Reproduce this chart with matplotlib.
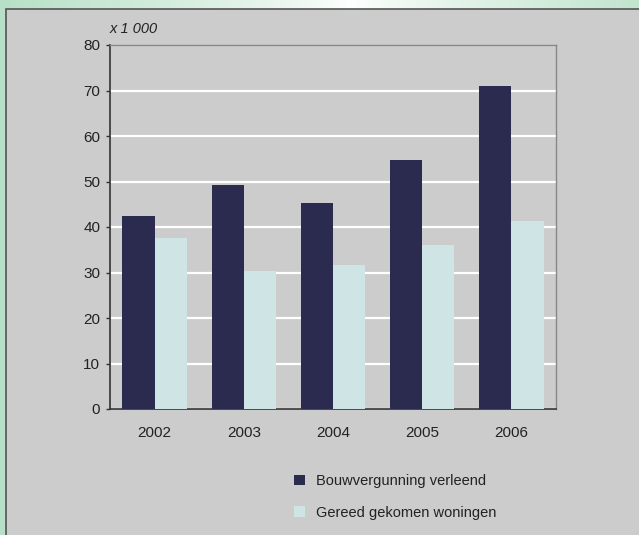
import numpy as np
import matplotlib
matplotlib.use("Agg")
import matplotlib.pyplot as plt
from matplotlib.patches import Rectangle

plt.rcParams['font.family'] = ['Liberation Sans', 'DejaVu Sans']

jaren = ["2002", "2003", "2004", "2005", "2006"]
bouwvergunning = [42.4, 49.3, 45.3, 54.7, 71.0]
gereed = [37.5, 30.3, 31.7, 36.0, 41.4]

donker = "#2b2b50"
licht = "#cfe5e5"
grijs = "#cccccc"

fig = plt.figure(figsize=(6.39, 5.35), dpi=100)

# groene achtergrond met verloop bovenaan
bg = fig.add_axes([0, 0, 1, 1])
bg.set_axis_off()
x = np.linspace(0, 1, 300)
verloop = np.abs(x - 0.55) / 0.55
groen = np.array([0.72, 0.88, 0.78])
kleur = 1 - (1 - groen) * np.clip(verloop, 0, 1)[:, None] ** 0.8
bg.imshow(kleur[None, :, :], extent=[0, 1, 0, 1], aspect="auto")
bg.add_patch(Rectangle((0.0, 0.0), 0.011, 1, color="#b8e0c8", transform=bg.transAxes))
bg.add_patch(Rectangle((6 / 639, -0.01), 1, 1 - 9 / 535 + 0.01, facecolor=grijs,
                       edgecolor="#555555", linewidth=1.2, transform=bg.transAxes))
bg.set_xlim(0, 1)
bg.set_ylim(0, 1)

# grafiek
ax = fig.add_axes([110 / 639, 1 - 409 / 535, 446 / 639, 364 / 535])
ax.set_facecolor(grijs)
pos = np.arange(len(jaren))
w = 0.36
ax.bar(pos - w / 2, bouwvergunning, w, color=donker, label="Bouwvergunning verleend", zorder=3)
ax.bar(pos + w / 2, gereed, w, color=licht, label="Gereed gekomen woningen", zorder=3)

ax.set_xlim(-0.5, 4.5)
ax.set_ylim(0, 80)
ax.set_yticks(range(0, 81, 10))
ax.set_xticks(pos)
ax.set_xticklabels(jaren)
ax.yaxis.grid(True, color="white", linewidth=1.6, zorder=1)
ax.tick_params(axis="y", length=3, width=1, color="#333333", labelsize=11, pad=4, labelcolor="#222222")
ax.tick_params(axis="x", length=0, labelsize=11, pad=12, labelcolor="#222222")
for s in ["left", "bottom"]:
    ax.spines[s].set_color("#333333")
    ax.spines[s].set_linewidth(1.2)
for s in ["top", "right"]:
    ax.spines[s].set_color("#888888")
    ax.spines[s].set_linewidth(1.0)

ax.text(0.0, 1.025, "x 1 000", transform=ax.transAxes, fontsize=10.5, style="italic",
        color="#222222", ha="left", va="bottom")

fig.legend(loc="upper left", bbox_to_anchor=(281 / 639, 1 - 461 / 535), frameon=False,
           fontsize=10.5, handlelength=0.75, handleheight=0.75, labelspacing=1.2,
           handletextpad=0.75, labelcolor="#222222")

fig.savefig("out.png", dpi=100)
